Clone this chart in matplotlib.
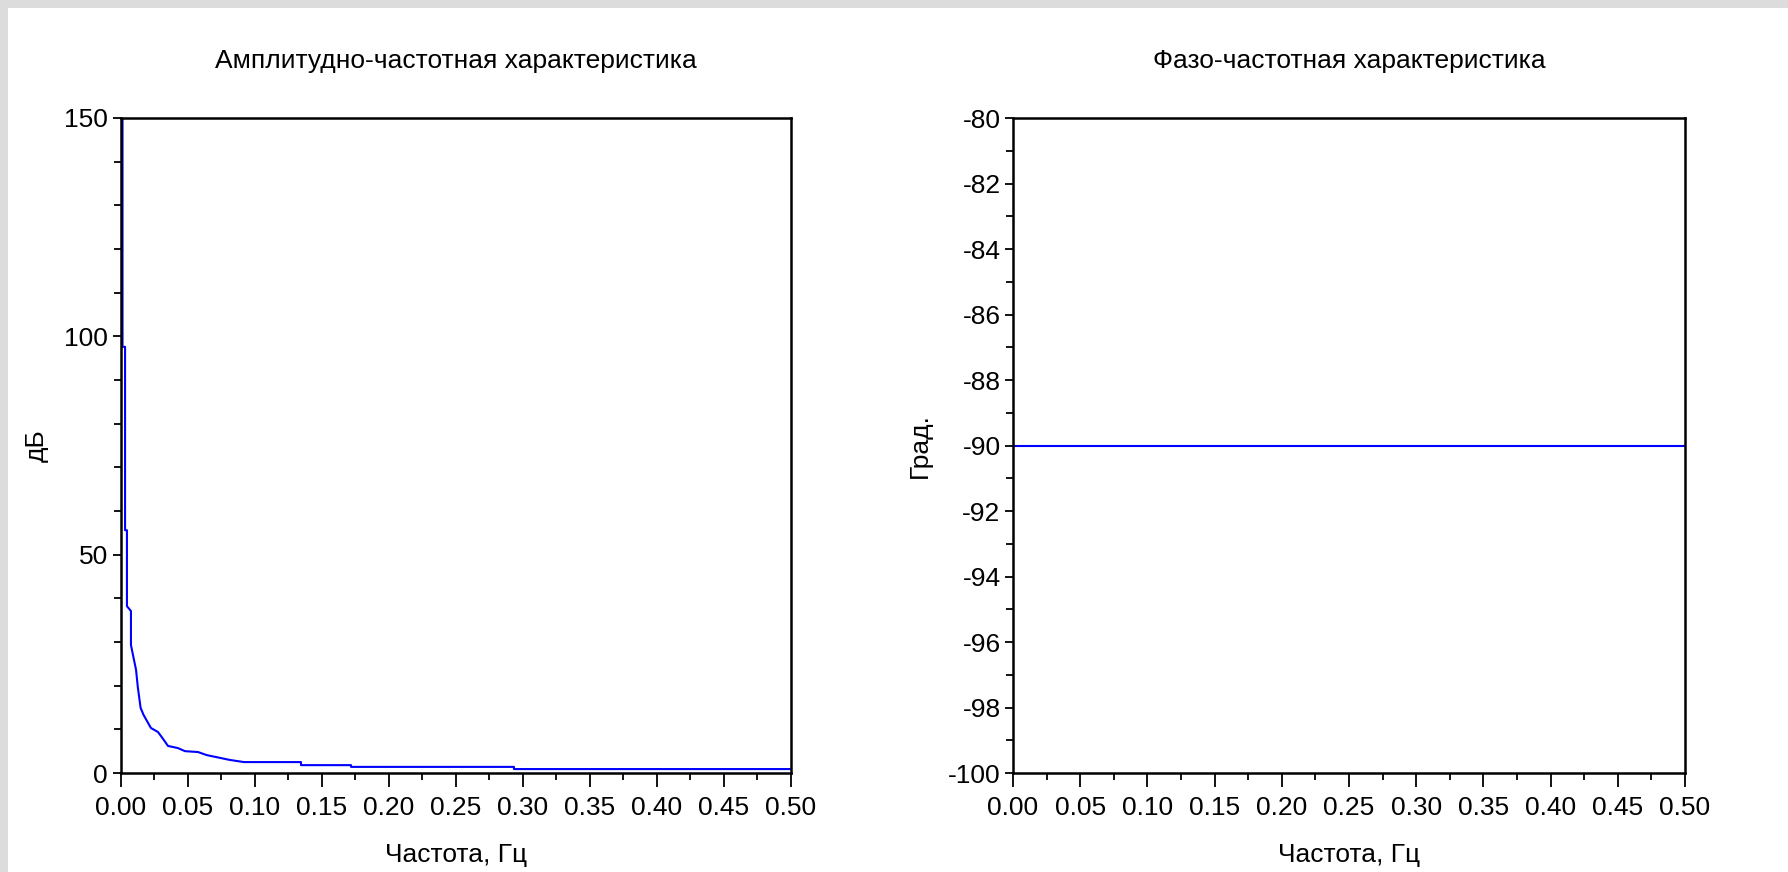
import matplotlib
matplotlib.use("Agg")
import matplotlib.pyplot as plt
from matplotlib.patches import Rectangle
from matplotlib.ticker import FixedLocator, MultipleLocator

# Amplitude response (frequency in Hz, magnitude)
amp_freq = [0.0015, 0.0015, 0.0034, 0.0034, 0.0048, 0.0048, 0.0078, 0.0078,
            0.0116, 0.0129, 0.0150, 0.0172, 0.0227, 0.0279, 0.0313, 0.0354,
            0.0429, 0.0481, 0.0578, 0.0643, 0.0705, 0.0814, 0.0921, 0.1346,
            0.1346, 0.1719, 0.1719, 0.2934, 0.2934, 0.5]
amp_db = [150.0, 97.6, 97.6, 55.6, 55.6, 38.2, 37.1, 29.3,
          23.6, 19.7, 14.9, 13.3, 10.3, 9.4, 8.0, 6.2,
          5.7, 5.0, 4.8, 4.1, 3.7, 3.0, 2.5, 2.5,
          1.8, 1.8, 1.4, 1.4, 0.9, 0.9]

# Phase response (frequency in Hz, degrees)
phase_freq = [0.0015, 0.5]
phase_deg = [-90.0, -90.0]

freq_ticks = [0.00, 0.05, 0.10, 0.15, 0.20, 0.25, 0.30, 0.35, 0.40, 0.45, 0.50]
freq_tick_labels = ["0.00", "0.05", "0.10", "0.15", "0.20", "0.25",
                    "0.30", "0.35", "0.40", "0.45", "0.50"]
amp_ticks = [0, 50, 100, 150]
amp_tick_labels = ["0", "50", "100", "150"]
phase_ticks = [-100, -98, -96, -94, -92, -90, -88, -86, -84, -82, -80]
phase_tick_labels = ["-100", "-98", "-96", "-94", "-92", "-90",
                     "-88", "-86", "-84", "-82", "-80"]

title_amp = "Амплитудно-частотная характеристика"
title_phase = "Фазо-частотная характеристика"
xlabel_text = "Частота, Гц"
ylabel_amp = "дБ"
ylabel_phase = "Град."

plt.rcParams["font.family"] = ["Liberation Sans", "DejaVu Sans"]
plt.rcParams["axes.unicode_minus"] = False

W, H = 1788, 872
fig = plt.figure(figsize=(W / 100, H / 100), dpi=100, facecolor="#dcdcdc")
fig.patches.append(Rectangle((8 / W, 0), 1 - 8 / W, 1 - 8 / H,
                             transform=fig.transFigure, facecolor="white",
                             edgecolor="none", zorder=-10))

FS = 19
LINE_BLUE = "#0000ff"


def px_axes(left, right, top, bottom):
    return [left / W, (H - bottom) / H, (right - left) / W, (bottom - top) / H]


def style_axes(ax, yticks, ylabels, ylim, yminor, title, ylabel, ylab_x):
    ax.set_xlim(0, 0.5)
    ax.set_ylim(*ylim)
    ax.xaxis.set_major_locator(FixedLocator(freq_ticks))
    ax.set_xticklabels(freq_tick_labels)
    ax.xaxis.set_minor_locator(MultipleLocator(0.025))
    ax.yaxis.set_major_locator(FixedLocator(yticks))
    ax.set_yticklabels(ylabels)
    ax.yaxis.set_minor_locator(MultipleLocator(yminor))
    for sp in ax.spines.values():
        sp.set_linewidth(1.8)
        sp.set_color("black")
    ax.tick_params(axis="x", which="major", direction="out", length=10,
                   width=1.3, pad=6.5, labelsize=FS)
    ax.tick_params(axis="x", which="minor", direction="out", length=5,
                   width=1.3)
    ax.tick_params(axis="y", which="major", direction="out", length=6,
                   width=1.3, pad=3, labelsize=FS)
    ax.tick_params(axis="y", which="minor", direction="out", length=5,
                   width=1.3)
    ax.set_title(title, fontsize=FS, y=1.0863, va="center", pad=0)
    ax.set_xlabel(xlabel_text, fontsize=FS)
    ax.xaxis.set_label_coords(0.5, -0.125)
    ax.xaxis.label.set_verticalalignment("center")
    ax.set_ylabel(ylabel, fontsize=FS)
    ax.yaxis.set_label_coords(ylab_x, 0.5)
    ax.yaxis.label.set_verticalalignment("center")


ax1 = fig.add_axes(px_axes(120.5, 791, 118, 773))
ax1.plot(amp_freq, amp_db, color=LINE_BLUE, lw=1.5, clip_on=True)
style_axes(ax1, amp_ticks, amp_tick_labels, (0, 150), 10,
           title_amp, ylabel_amp, (37 - 120.5) / 670.5)

ax2 = fig.add_axes(px_axes(1013, 1685, 118, 773))
ax2.plot(phase_freq, phase_deg, color=LINE_BLUE, lw=1.5)
style_axes(ax2, phase_ticks, phase_tick_labels, (-100, -80), 1,
           title_phase, ylabel_phase, (920 - 1013) / 672)

fig.savefig("out.png", dpi=100, facecolor=fig.get_facecolor())
